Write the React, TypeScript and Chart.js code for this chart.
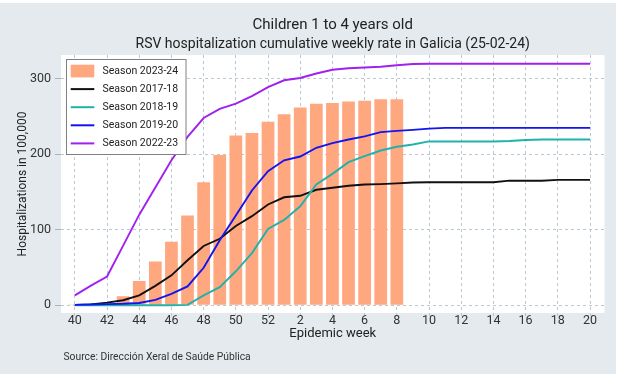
import React, { useEffect, useRef } from 'react';
import { Chart, registerables } from 'chart.js';

Chart.register(...registerables);

// ---- Data ----
const weekLabels = [
  '40', '41', '42', '43', '44', '45', '46', '47', '48', '49', '50', '51', '52',
  '1', '2', '3', '4', '5', '6', '7', '8', '9', '10', '11', '12', '13', '14', '15', '16', '17', '18', '19', '20',
];
const xTickIndexes = [0, 2, 4, 6, 8, 10, 12, 14, 16, 18, 20, 22, 24, 26, 28, 30, 32];
const yTicks = [0, 100, 200, 300];

const season2324 = [1, 1, 2, 12, 32, 58, 84, 119, 163, 199, 225, 228, 243, 253, 262, 267, 268, 270, 271, 273, 273];
const season1718 = [0.5, 1, 3.5, 6.6, 13, 25.6, 39.6, 59.5, 78.5, 88, 105, 118, 133.5, 143, 145, 153, 155.7, 158.3, 160, 160.5, 161.4, 162.5, 163, 163, 163, 163, 163, 165, 165, 165, 166, 166, 166];
const season1819 = [0, 0, 0, 0, 0, 0, 0, 0.5, 13, 24, 45, 69, 101, 113, 131, 160, 174, 189.5, 197.5, 205, 210, 213, 217, 217, 217, 217, 217, 217.5, 218.8, 219.6, 219.6, 219.6, 219.6];
const season1920 = [0.5, 1, 1.5, 2, 3, 7, 15, 25, 49.6, 86, 119, 152, 177.6, 192, 197, 208.6, 214.7, 219.6, 223.6, 229.3, 231, 232.3, 234, 235, 235, 235, 235, 235, 235, 235, 235, 235, 235];
const season2223 = [13, 26, 38, 79, 120, 156, 192, 223, 248, 260, 267, 277, 289, 298, 301, 307, 312, 314, 315, 316, 318, 319.5, 320, 320, 320, 320, 320, 320, 320, 320, 320, 320, 320];

const legendLabels = ['Season 2023-24', 'Season 2017-18', 'Season 2018-19', 'Season 2019-20', 'Season 2022-23'];

const titleText = 'Children 1 to 4 years old';
const subtitleText = 'RSV hospitalization cumulative weekly rate in Galicia (25-02-24)';
const xTitle = 'Epidemic week';
const yTitle = 'Hospitalizations in 100,000';
const sourceText = 'Source: Dirección Xeral de Saúde Pública';

// ---- Styles ----
const FONT = 'Roboto, "Noto Sans", "DejaVu Sans", sans-serif';
const BAR_COLOR = '#ffa77f';
const C1718 = '#111111';
const C1819 = '#20b2aa';
const C1920 = '#1414f0';
const C2223 = '#a020f0';
const GRID = '#b9c9d1';
const BG = '#e4eaed';
const TEXT = '#222222';

const toPoints = (arr: number[]) => arr.map((v, i) => ({ x: i, y: v }));

const backgroundPlugin = {
  id: 'bgPlugin',
  beforeDraw(chart: any) {
    const { ctx, chartArea } = chart;
    ctx.save();
    ctx.fillStyle = '#ffffff';
    ctx.fillRect(0, 0, chart.width, chart.height);
    ctx.fillStyle = BG;
    ctx.fillRect(0, 3, 616, chart.height - 3);
    ctx.fillStyle = '#ffffff';
    ctx.fillRect(chartArea.left, chartArea.top, chartArea.right - chartArea.left, chartArea.bottom - chartArea.top);
    ctx.restore();
  },
};

const legendPlugin = {
  id: 'boxLegend',
  afterDraw(chart: any) {
    const { ctx } = chart;
    ctx.save();
    const bx = 66.5, by = 59.5, bw = 119.5, bh = 95;
    ctx.fillStyle = '#ffffff';
    ctx.fillRect(bx, by, bw, bh);
    ctx.strokeStyle = '#808080';
    ctx.lineWidth = 1;
    ctx.strokeRect(bx, by, bw, bh);
    const colors = [BAR_COLOR, C1718, C1819, C1920, C2223];
    const rowY0 = 71;
    const rowStep = 18.1;
    ctx.font = `10.5px ${FONT}`;
    ctx.textBaseline = 'middle';
    ctx.textAlign = 'left';
    legendLabels.forEach((label, i) => {
      const cy = rowY0 + i * rowStep;
      if (i === 0) {
        ctx.fillStyle = colors[i];
        ctx.fillRect(70.7, cy - 6.3, 23.6, 12.7);
      } else {
        ctx.strokeStyle = colors[i];
        ctx.lineWidth = 2;
        ctx.beginPath();
        ctx.moveTo(70.7, cy);
        ctx.lineTo(94.3, cy);
        ctx.stroke();
      }
      ctx.fillStyle = TEXT;
      ctx.fillText(label, 102.5, cy);
    });
    // source note
    ctx.font = `10.3px ${FONT}`;
    ctx.fillStyle = '#333333';
    ctx.fillText(sourceText, 63.5, 357.5);
    ctx.restore();
  },
};

export default function App() {
  const ref = useRef<HTMLCanvasElement | null>(null);

  useEffect(() => {
    if (!ref.current) return;
    const lineDs = (label: string, data: number[], color: string, order: number) => ({
      type: 'line' as const,
      label,
      data: toPoints(data),
      borderColor: color,
      backgroundColor: color,
      borderWidth: 1.9,
      pointRadius: 0,
      tension: 0,
      fill: false,
      order,
    });
    const chart = new Chart(ref.current, {
      type: 'bar',
      data: {
        datasets: [
          {
            type: 'bar',
            label: legendLabels[0],
            data: toPoints(season2324),
            backgroundColor: BAR_COLOR,
            barPercentage: 0.79,
            categoryPercentage: 1,
            order: 10,
          } as any,
          lineDs(legendLabels[1], season1718, C1718, 4),
          lineDs(legendLabels[2], season1819, C1819, 3),
          lineDs(legendLabels[3], season1920, C1920, 2),
          lineDs(legendLabels[4], season2223, C2223, 1),
        ],
      },
      options: {
        responsive: false,
        animation: false,
        devicePixelRatio: 1,
        layout: { padding: { top: 0, left: 0, right: 15.5, bottom: 32.2 } },
        plugins: {
          legend: { display: false },
          tooltip: { enabled: false },
          title: {
            display: true,
            text: titleText,
            fullSize: false,
            color: TEXT,
            font: { family: FONT, size: 15, weight: 'normal', lineHeight: 1.2 },
            padding: { top: 15.8, bottom: 0 },
          },
          subtitle: {
            display: true,
            text: subtitleText,
            fullSize: false,
            color: TEXT,
            font: { family: FONT, size: 14, weight: 'normal', lineHeight: 1.2 },
            padding: { top: 2.5, bottom: 1.9 },
          },
        },
        scales: {
          x: {
            type: 'linear',
            offset: false,
            min: -0.86,
            max: 32.9,
            afterBuildTicks: (scale: any) => {
              scale.ticks = xTickIndexes.map((v) => ({ value: v }));
            },
            afterFit: (scale: any) => {
              scale.height = 28.8;
            },
            ticks: {
              autoSkip: false,
              maxRotation: 0,
              padding: -2.7,
              color: '#333333',
              font: { family: FONT, size: 12.5, lineHeight: 1.2 },
              callback: (value: any) => weekLabels[Math.round(Number(value))] ?? '',
            },
            grid: { offset: false, color: GRID, tickColor: GRID, tickLength: 3, lineWidth: 1 },
            border: { display: false, dash: [3, 3] },
            title: {
              display: true,
              text: xTitle,
              color: TEXT,
              font: { family: FONT, size: 13, lineHeight: 1.2 },
              padding: { top: 0, bottom: 0 },
            },
          },
          y: {
            type: 'linear',
            min: -10.3,
            max: 331.5,
            afterBuildTicks: (scale: any) => {
              scale.ticks = yTicks.map((v) => ({ value: v }));
            },
            afterFit: (scale: any) => {
              scale.width = 61;
            },
            ticks: {
              padding: 4,
              color: '#333333',
              font: { family: FONT, size: 12.5, lineHeight: 1.2 },
            },
            grid: { color: GRID, tickColor: '#a9b5bb', tickLength: 6, lineWidth: 1 },
            border: { display: false, dash: [3, 3] },
            title: {
              display: true,
              text: yTitle,
              color: TEXT,
              font: { family: FONT, size: 12, lineHeight: 1.2 },
              padding: { top: 15.5, bottom: 0 },
            },
          },
        },
      } as any,
      plugins: [backgroundPlugin, legendPlugin],
    });
    return () => chart.destroy();
  }, []);

  return (
    <div style={{ position: 'absolute', left: 0, top: 0, width: 620, height: 374 }}>
      <canvas ref={ref} width={620} height={374} style={{ display: 'block' }} />
    </div>
  );
}
